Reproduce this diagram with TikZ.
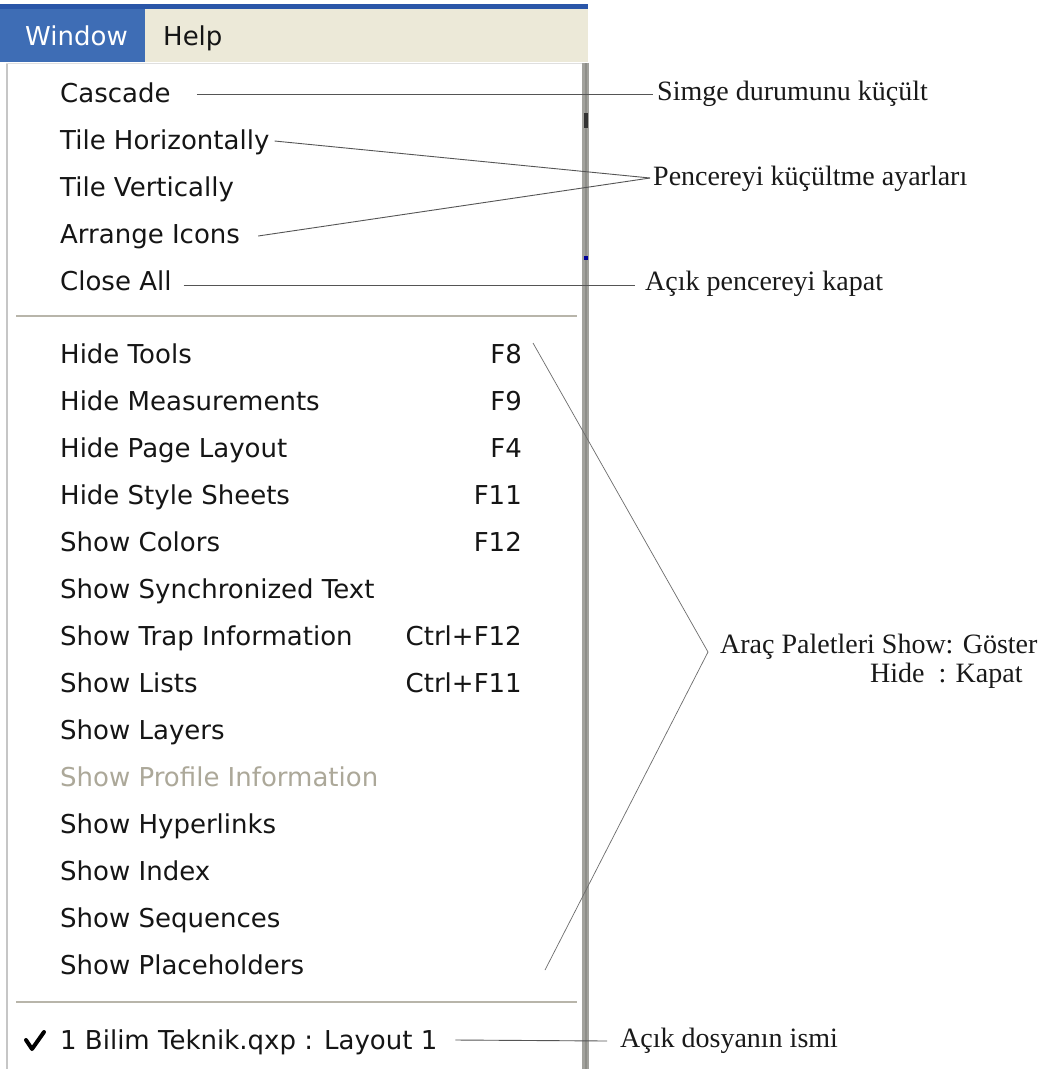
\documentclass[tikz,border=0pt]{standalone}
\usepackage{fontspec}
\setmainfont{Liberation Serif}
\newfontfamily\uifont{DejaVu Sans}

\definecolor{menublue}{HTML}{3E6DB5}
\definecolor{barblue}{HTML}{2A56A8}
\definecolor{menubar}{HTML}{ECE9D8}
\definecolor{disabledtxt}{HTML}{ACA899}
\definecolor{sepgray}{HTML}{B8B5AA}
\definecolor{edgegray}{HTML}{A2A29D}
\definecolor{edgedark}{HTML}{8E8E89}
\definecolor{callgray}{HTML}{555555}
\definecolor{uitext}{HTML}{151515}

\begin{document}
\begin{tikzpicture}[x=1pt,y=-1pt,
  item/.style={anchor=base west, inner sep=0pt, text=uitext,
               font=\uifont\fontsize{26}{30}\selectfont},
  keyname/.style={anchor=base east, inner sep=0pt, text=uitext,
               font=\uifont\fontsize{26}{30}\selectfont},
  note/.style={anchor=base west, inner sep=0pt, text=black!90,
               font=\fontsize{28}{32}\selectfont},
  callout/.style={draw=callgray, line width=0.9pt},
  brace/.style={draw=gray!85!black, line width=0.7pt}]

% page
\fill[white] (0,0) rectangle (1045,1069);
\useasboundingbox (0,0) rectangle (1045,1069);

% menu bar
\fill[barblue] (0,4) rectangle (588,9);
\fill[menublue] (0,9) rectangle (145,62);
\fill[menubar] (145,9) rectangle (588,62);
\node[item, text=white] (win) at (25,45) {Window};
\node[item] (help) at (163,45) {Help};

% drop-down panel
\fill[white] (6,63) rectangle (583,1069);
\draw[gray!45, line width=1.5pt] (6.75,63) -- (6.75,1069);
\draw[gray!25, line width=1pt] (6,63.5) -- (583,63.5);
\fill[edgegray] (582,63) rectangle (589,1069);
\fill[edgedark] (584.5,63) rectangle (587,1069);
\fill[black!80] (584,113) rectangle (587.5,128);
\fill[blue!60!black] (584,256) rectangle (587.5,260);

% separators
\draw[sepgray, line width=2pt] (16,316) -- (577,316);
\draw[sepgray, line width=2pt] (16,1002) -- (577,1002);

% first group
\node[item] (cascade)  at (60,102) {Cascade};
\node[item] (tileh)    at (60,149) {Tile Horizontally};
\node[item] (tilev)    at (60,196) {Tile Vertically};
\node[item] (arrange)  at (60,243) {Arrange Icons};
\node[item] (closeall) at (60,290) {Close All};

% palette group
\node[item] (hidetools)  at (60,363) {Hide Tools};
\node[item] (hidemeas)   at (60,410) {Hide Measurements};
\node[item] (hidepage)   at (60,457) {Hide Page Layout};
\node[item] (hidestyle)  at (60,504) {Hide Style Sheets};
\node[item] (showcolors) at (60,551) {Show Colors};
\node[item] (showsync)   at (60,598) {Show Synchronized Text};
\node[item] (showtrap)   at (60,645) {Show Trap Information};
\node[item] (showlists)  at (60,692) {Show Lists};
\node[item] (showlayers) at (60,739) {Show Layers};
\node[item, text=disabledtxt] (showprofile) at (60,786) {Show Profile Information};
\node[item] (showhyper)  at (60,833) {Show Hyperlinks};
\node[item] (showindex)  at (60,880) {Show Index};
\node[item] (showseq)    at (60,927) {Show Sequences};
\node[item] (showplace)  at (60,974) {Show Placeholders};

% shortcuts
\node[keyname] (f8)  at (522,363) {F8};
\node[keyname] (f9)  at (522,410) {F9};
\node[keyname] (f4)  at (522,457) {F4};
\node[keyname] (f11) at (522,504) {F11};
\node[keyname] (f12) at (522,551) {F12};
\node[keyname] (cf12) at (522,645) {Ctrl+F12};
\node[keyname] (cf11) at (522,692) {Ctrl+F11};

% open document entry
\draw[black, line width=4pt, line cap=round, line join=round]
  (26,1040) -- (32,1049) -- (44,1032);
\node[item] (layout) at (60,1049) {1 Bilim Teknik.qxp : Layout 1};

% notes
\node[note] (simge)   at (657,100) {Simge durumunu küçült};
\node[note] (pencere) at (653,185) {Pencereyi küçültme ayarları};
\node[note] (acik)    at (645,290) {Açık pencereyi kapat};
\node[note] (arac)    at (720,653) {Araç Paletleri Show: Göster};
\node[note] (hide)    at (870,682) {Hide\ \ : Kapat};
\node[note] (dosya)   at (620,1047) {Açık dosyanın ismi};

% connectors
\draw[callout] ([shift={(26pt,8pt)}]cascade.base east) -- ([shift={(-4pt,6pt)}]simge.base west);
\draw[callout] ([shift={(5pt,8pt)}]tileh.base east) -- ([shift={(-3pt,7pt)}]pencere.base west);
\draw[callout] ([shift={(18pt,7pt)}]arrange.base east) -- ([shift={(-3pt,7pt)}]pencere.base west);
\draw[callout] ([shift={(12pt,5pt)}]closeall.base east) -- ([shift={(-10pt,5pt)}]acik.base west);
\coordinate (brbot) at (545,970);
\draw[brace] ([shift={(11pt,20pt)}]f8.base east) -- ([shift={(-12pt,1pt)}]arac.base west) -- (brbot);
\draw[callout] ([shift={(18pt,9pt)}]layout.base east) -- ([shift={(-13pt,6pt)}]dosya.base west);

\end{tikzpicture}
\end{document}
